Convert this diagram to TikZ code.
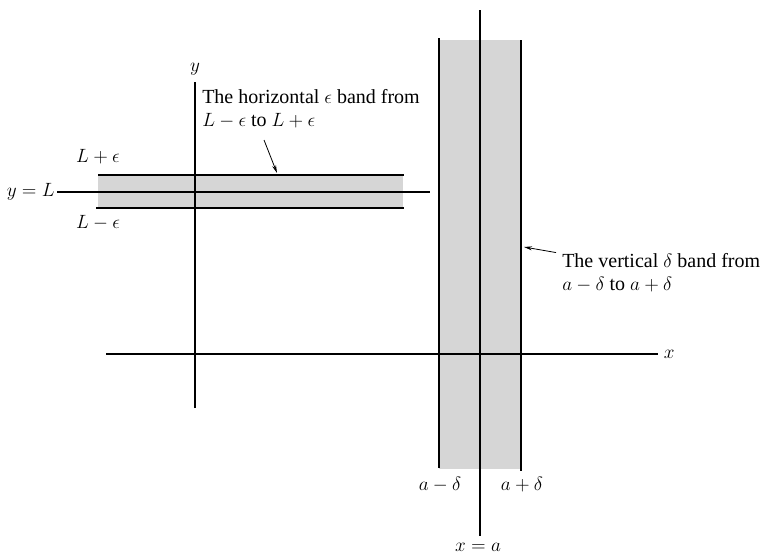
\documentclass[tikz,border=0pt]{standalone}
\usepackage{amsmath,amssymb}
\usepackage{fontspec}
\setmainfont{Liberation Serif}
\usepackage{tikz}
\usetikzlibrary{positioning,arrows.meta,calc}
\definecolor{stipple}{HTML}{D6D6D6}

\begin{document}
\begin{tikzpicture}[x=0.75pt, y=-0.75pt,
    axis/.style={line width=0.9pt},
    edge/.style={line width=2.1pt},
    band/.style={fill=stipple, draw=none},
    lbl/.style={inner sep=0pt, font=\fontsize{13.5}{13.5}\selectfont},
    txt/.style={inner sep=0pt, align=left, font=\fontsize{15}{17}\selectfont},
    pointer/.style={-{Stealth[length=6pt,width=3pt]}, line width=0.6pt}]
      \useasboundingbox (0,0) rectangle (767,553);

      % Shaded bands
      \fill[band] (98,175) rectangle (403,208);
      \fill[band] (439,40) rectangle (521,469);

      % Axes
      \draw[axis] (106,354) -- (658,354) node[lbl, right=4pt] (xlab) {$x$};
      \draw[axis] (195,408) -- (195,82) node[lbl, above=5pt] (ylab) {$y$};

      % Horizontal band edges
      \draw[edge] (98,175) -- (404,175);
      \draw[edge] (96,208) -- (404,208);
      \draw[edge] (57,192) -- (430,192);
      \node[lbl, anchor=east] (yL) at (55,192) {$y = L$};
      \node[lbl] (Lplus) at (98,157) {$L + \epsilon$};
      \node[lbl] (Lminus) at (98,223) {$L - \epsilon$};

      % Vertical band edges
      \draw[edge] (439,38) -- (439,468);
      \draw[edge] (521,40) -- (521,471);
      \draw[edge] (480,10) -- (480,536);
      \node[lbl] (aminus) at (440,485) {$a - \delta$};
      \node[lbl] (aplus) at (522,485) {$a + \delta$};
      \node[lbl] (xa) at (478,547) {$x = a$};

      % Labels with pointers
      \node[txt, anchor=west] (hband) at (202,109)
        {The horizontal $\epsilon$ band from\\$L - \epsilon$ to $L + \epsilon$};
      \coordinate (hfrom) at (264,140);
      \coordinate (hto) at (277,173);
      \draw[pointer] (hfrom) -- (hto);

      \node[txt, anchor=west] (vband) at (562,273)
        {The vertical $\delta$ band from\\$a - \delta$ to $a + \delta$};
      \coordinate (vfrom) at ($(vband.north west)+(-6,-1)$);
      \coordinate (vto) at (524,247);
      \draw[pointer] (vfrom) -- (vto);
    \end{tikzpicture}
\end{document}
